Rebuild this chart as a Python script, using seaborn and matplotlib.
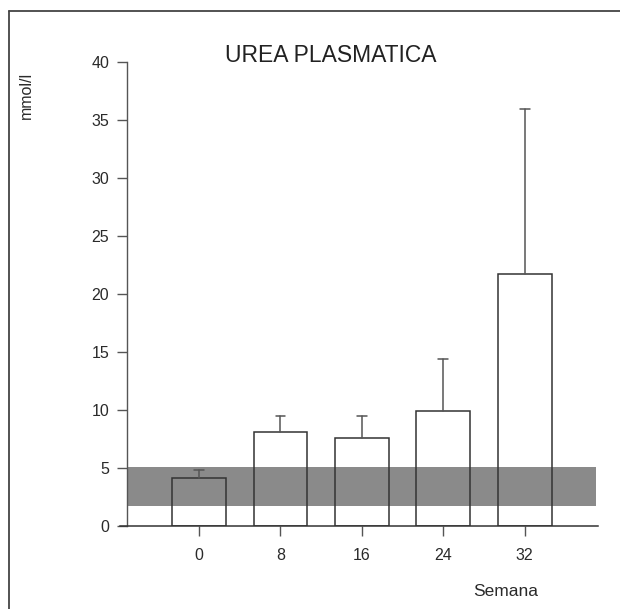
import matplotlib
matplotlib.use("Agg")
import matplotlib.pyplot as plt
import seaborn as sns
import pandas as pd
from matplotlib.lines import Line2D

semanas = ["0", "8", "16", "24", "32"]
media = [4.15, 8.07, 7.62, 9.95, 21.75]
superior = [4.83, 9.48, 9.48, 14.4, 35.95]
banda_inf = 1.72
banda_sup = 5.06

df = pd.DataFrame({"Semana": semanas, "urea": media})

sns.set_theme(style="ticks")
plt.rcParams['font.family'] = ['Liberation Sans', 'DejaVu Sans']

fig = plt.figure(figsize=(6.2, 6.09), dpi=100)
ax = fig.add_axes([120/620, 1-526/609, (598-120)/620, (526-62)/609])

xl, xr = -0.97, 4.9
yax = -0.88
ax.fill_between([yax, 4.88], banda_inf, banda_sup, color="#8a8a8a", lw=0, zorder=0)

sns.barplot(data=df, x="Semana", y="urea", ax=ax, width=0.66,
            facecolor="none", edgecolor="#333333", linewidth=1.1, zorder=2)

for i, (m, s) in enumerate(zip(media, superior)):
    ax.plot([i, i], [m, s], color="#555555", lw=1.1, zorder=3)
    ax.plot([i - 0.06, i + 0.06], [s, s], color="#555555", lw=1.1, zorder=3)

ax.set_xlim(xl, xr)
ax.set_ylim(0, 40)
ax.set_yticks(range(0, 41, 5))
ax.spines["top"].set_visible(False)
ax.spines["right"].set_visible(False)
ax.spines["left"].set_position(("data", yax))
ax.spines["left"].set_color("#555555")
ax.spines["bottom"].set_color("#333333")
ax.spines["left"].set_linewidth(1.0)
ax.spines["bottom"].set_linewidth(1.1)
ax.tick_params(axis="both", length=7, width=1.0, color="#555555",
               labelsize=11.5, labelcolor="#2a2a2a")
ax.tick_params(axis="y", pad=6)
ax.tick_params(axis="x", pad=9)
ax.set_xlabel("")
ax.set_ylabel("")
ax.patch.set_alpha(0)

fig.text(331/620, 1-55/609, "UREA PLASMATICA", ha="center", va="center",
         fontsize=16.5, color="#222222")
fig.text(26/620, 1-95/609, "mmol/l", rotation=90, ha="center", va="center",
         fontsize=11.5, color="#2a2a2a")
fig.text(506/620, 1-592/609, "Semana", ha="center", va="center",
         fontsize=12.5, color="#2a2a2a")

fig.add_artist(Line2D([9/620, 9/620], [0, 1-11/609], transform=fig.transFigure,
                      color="#444444", lw=1.3))
fig.add_artist(Line2D([9/620, 1], [1-11/609, 1-11/609], transform=fig.transFigure,
                      color="#444444", lw=1.3))

fig.savefig("out.png", dpi=100)
